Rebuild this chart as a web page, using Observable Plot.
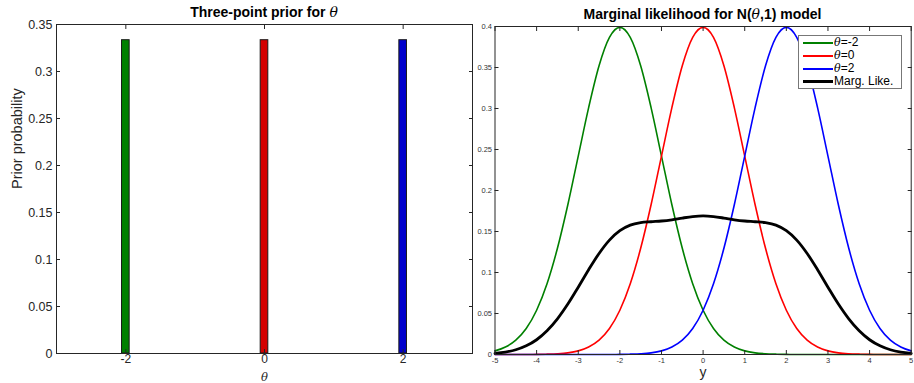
<!DOCTYPE html>
<html><head><meta charset="utf-8">
<script src="https://cdn.jsdelivr.net/npm/d3@7"></script>
<script src="https://cdn.jsdelivr.net/npm/@observablehq/plot@0.6"></script>
<style>
body{margin:0;background:#fff;}
#wrap{position:relative;width:914px;height:383px;overflow:hidden;font-family:"Liberation Sans",Arial,Helvetica,sans-serif;}
.panel{position:absolute;top:0;}
.title{position:absolute;font-weight:bold;font-size:14px;line-height:16px;color:#000;white-space:nowrap;transform:translateX(-50%);}
.th{font-family:"DejaVu Serif","Liberation Serif",serif;font-style:italic;font-weight:normal;}
#legend{position:absolute;left:798px;top:35px;width:104px;height:54px;border:1px solid #777;background:#fff;box-sizing:border-box;}
.lrow{position:absolute;left:4px;height:13px;line-height:13px;display:flex;align-items:center;font-size:12px;color:#000;white-space:nowrap;}
.lrow .th{font-size:11px;}
.lline{width:30px;margin-right:1px;}
</style></head>
<body><div id="wrap"></div>
<script>
// ---- data ----
const priorTheta = [-2, 0, 2];
const priorProb = [0.3333, 0.3333, 0.3333];
const priorColors = ["#008000", "#d40000", "#0000cc"];
const leftXTicks = [-2, 0, 2];
const leftYTicks = [0, 0.05, 0.1, 0.15, 0.2, 0.25, 0.3, 0.35];

const yGrid = [-5, -4.75, -4.5, -4.25, -4, -3.75, -3.5, -3.25, -3, -2.75, -2.5, -2.25, -2, -1.75, -1.5, -1.25, -1, -0.75, -0.5, -0.25, 0,
  0.25, 0.5, 0.75, 1, 1.25, 1.5, 1.75, 2, 2.25, 2.5, 2.75, 3, 3.25, 3.5, 3.75, 4, 4.25, 4.5, 4.75, 5];
const likeThetaM2 = [0.0044, 0.0091, 0.0175, 0.0317, 0.0540, 0.0863, 0.1295, 0.1826, 0.2420, 0.3011, 0.3521, 0.3867, 0.3989,
  0.3867, 0.3521, 0.3011, 0.2420, 0.1826, 0.1295, 0.0863, 0.0540, 0.0317, 0.0175, 0.0091, 0.0044, 0.0020, 0.0009, 0.0004, 0.0001,
  0, 0, 0, 0, 0, 0, 0, 0, 0, 0, 0, 0];
const likeTheta0 = [0, 0, 0, 0, 0.0001, 0.0004, 0.0009, 0.0020, 0.0044, 0.0091, 0.0175, 0.0317, 0.0540, 0.0863, 0.1295, 0.1826, 0.2420, 0.3011, 0.3521, 0.3867, 0.3989,
  0.3867, 0.3521, 0.3011, 0.2420, 0.1826, 0.1295, 0.0863, 0.0540, 0.0317, 0.0175, 0.0091, 0.0044, 0.0020, 0.0009, 0.0004, 0.0001, 0, 0, 0, 0];
const likeTheta2 = [0, 0, 0, 0, 0, 0, 0, 0, 0, 0, 0, 0, 0.0001, 0.0004, 0.0009, 0.0020, 0.0044, 0.0091, 0.0175, 0.0317, 0.0540,
  0.0863, 0.1295, 0.1826, 0.2420, 0.3011, 0.3521, 0.3867, 0.3989, 0.3867, 0.3521, 0.3011, 0.2420, 0.1826, 0.1295, 0.0863, 0.0540, 0.0317, 0.0175, 0.0091, 0.0044];
const margLike = [0.0015, 0.0030, 0.0058, 0.0106, 0.0180, 0.0289, 0.0435, 0.0615, 0.0821, 0.1034, 0.1232, 0.1395, 0.1510, 0.1578, 0.1608, 0.1619, 0.1628, 0.1643, 0.1664, 0.1682, 0.1690,
  0.1682, 0.1664, 0.1643, 0.1628, 0.1619, 0.1608, 0.1578, 0.1510, 0.1395, 0.1232, 0.1034, 0.0821, 0.0615, 0.0435, 0.0289, 0.0180, 0.0106, 0.0058, 0.0030, 0.0015];
const rightXTicks = [-5, -4, -3, -2, -1, 0, 1, 2, 3, 4, 5];
const rightYTicks = [0, 0.05, 0.1, 0.15, 0.2, 0.25, 0.3, 0.35, 0.4];

const seriesNames = ["θ=-2", "θ=0", "θ=2", "Marg. Like."];
const seriesColors = ["#008000", "#ff0000", "#0000ff", "#000000"];
const seriesWidths = [1.6, 1.6, 1.6, 2.8];
const seriesValues = [likeThetaM2, likeTheta0, likeTheta2, margLike];

const barHalf = 0.055;
const fontMain = "Liberation Sans, Arial, Helvetica, sans-serif";

// ---- left panel ----
const priorData = priorTheta.map((t, i) => ({theta: t, prob: priorProb[i], color: priorColors[i]}));
const left = Plot.plot({
  width: 480, height: 383,
  marginLeft: 56, marginRight: 8, marginTop: 24, marginBottom: 30,
  style: {background: "transparent", fontFamily: fontMain, fontSize: "12px", color: "#262626", overflow: "visible"},
  x: {domain: [-3, 3]},
  y: {domain: [0, 0.35]},
  color: {type: "identity"},
  marks: [
    Plot.rectY(priorData, {x1: d => d.theta - barHalf, x2: d => d.theta + barHalf, y1: 0, y2: "prob", fill: "color", stroke: "#1a1a1a", strokeWidth: 1}),
    Plot.frame({stroke: "#262626"}),
    Plot.axisX(leftXTicks, {anchor: "bottom", tickSize: -4, tickPadding: 5, label: null, tickFormat: d => `${d}`, stroke: "#262626", fill: "#262626", fontSize: 12}),
    Plot.axisX(leftXTicks, {anchor: "top", tickSize: -4, label: null, tickFormat: () => "", stroke: "#262626"}),
    Plot.axisY(leftYTicks, {anchor: "left", tickSize: -4, tickPadding: 8, label: null, tickFormat: d => `${d}`, stroke: "#262626", fill: "#262626", fontSize: 12.5}),
    Plot.axisY(leftYTicks, {anchor: "right", tickSize: -4, label: null, tickFormat: () => "", stroke: "#262626"}),
    Plot.text(["θ"], {frameAnchor: "bottom", dy: 27.5, lineAnchor: "bottom", fontStyle: "italic", fontFamily: "DejaVu Serif, Liberation Serif, serif", fontSize: 11.5, fill: "#262626"}),
    Plot.text(["Prior probability"], {frameAnchor: "left", dx: -39, rotate: -90, fontSize: 14.5, fill: "#262626"})
  ]
});
left.classList.add("panel");
left.style.left = "0px";

// ---- right panel ----
const lineMarks = seriesValues.map((vals, s) =>
  Plot.line(yGrid.map((y, i) => ({y, v: vals[i]})), {x: "y", y: "v", stroke: seriesColors[s], strokeWidth: seriesWidths[s], curve: "monotone-x"})
);
const right = Plot.plot({
  width: 454, height: 383,
  marginLeft: 34.5, marginRight: 3.3, marginTop: 26, marginBottom: 29,
  style: {background: "transparent", fontFamily: fontMain, fontSize: "7px", color: "#333", overflow: "visible"},
  x: {domain: [-5, 5]},
  y: {domain: [0, 0.4]},
  marks: [
    ...lineMarks,
    Plot.frame({stroke: "#262626"}),
    Plot.axisX(rightXTicks, {anchor: "bottom", tickSize: -4, tickPadding: 7, label: null, tickFormat: d => `${d}`, stroke: "#262626", fill: "#333", fontSize: 7.5}),
    Plot.axisX(rightXTicks, {anchor: "top", tickSize: -4, label: null, tickFormat: () => "", stroke: "#262626"}),
    Plot.axisY(rightYTicks, {anchor: "left", tickSize: -4, tickPadding: 7, label: null, tickFormat: d => `${d}`, stroke: "#262626", fill: "#333", fontSize: 7.5}),
    Plot.axisY(rightYTicks, {anchor: "right", tickSize: -4, label: null, tickFormat: () => "", stroke: "#262626"}),
    Plot.text(["y"], {frameAnchor: "bottom", dy: 22, fontSize: 14, fill: "#262626"})
  ]
});
right.classList.add("panel");
right.style.left = "460px";

const wrap = document.getElementById("wrap");
wrap.appendChild(left);
wrap.appendChild(right);

// titles
const t1 = document.createElement("div");
t1.className = "title"; t1.style.left = "264px"; t1.style.top = "4px";
t1.innerHTML = 'Three-point prior for <span class="th">θ</span>';
wrap.appendChild(t1);
const t2 = document.createElement("div");
t2.className = "title"; t2.style.left = "702.5px"; t2.style.top = "6px";
t2.innerHTML = 'Marginal likelihood for N(<span class="th">θ</span>,1) model';
wrap.appendChild(t2);

// legend
const leg = document.createElement("div");
leg.id = "legend";
seriesNames.forEach((name, i) => {
  const row = document.createElement("div");
  row.className = "lrow";
  row.style.top = (0 + i * 13) + "px";
  const ln = document.createElement("div");
  ln.className = "lline";
  ln.style.borderTop = `${i === 3 ? 3 : 2}px solid ${seriesColors[i]}`;
  row.appendChild(ln);
  const tx = document.createElement("span");
  if (name.startsWith("θ")) {
    tx.innerHTML = '<span class="th">θ</span>' + name.slice(1);
  } else tx.textContent = name;
  row.appendChild(tx);
  leg.appendChild(row);
});
wrap.appendChild(leg);
</script>
</body></html>
